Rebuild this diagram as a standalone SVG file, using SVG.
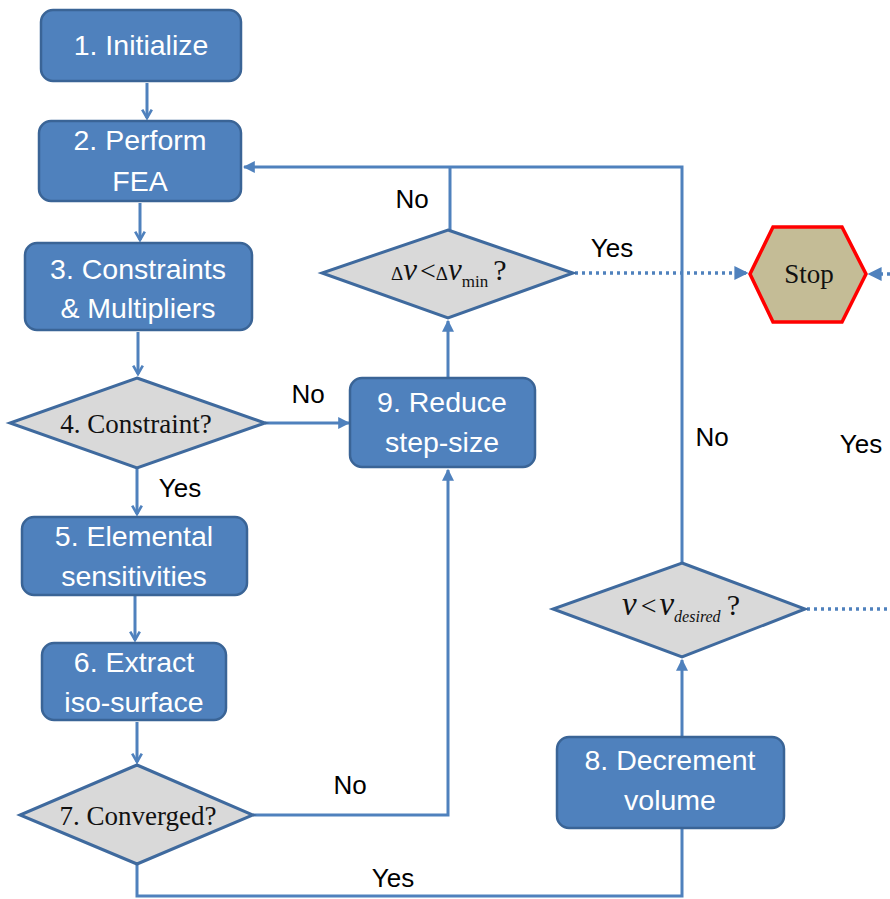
<svg xmlns="http://www.w3.org/2000/svg" width="890" height="899" viewBox="0 0 890 899">
<style>
.box{fill:#4F81BD;stroke:#3A6496;stroke-width:2.5}
.bt{font-family:"Liberation Sans",Arial,sans-serif;font-size:28.5px;fill:#fff;text-anchor:middle}
.dia{fill:#D9D9D9;stroke:#3F6A9E;stroke-width:3}
.dt{font-family:"Liberation Serif","Times New Roman",serif;font-size:27px;fill:#111;text-anchor:middle}
.lbl{font-family:"Liberation Sans",Arial,sans-serif;font-size:26px;fill:#000;text-anchor:middle}
.ln{fill:none;stroke:#4F81BD;stroke-width:3}
.dot{fill:none;stroke:#4F81BD;stroke-width:3.5;stroke-dasharray:3 4}
</style>
<defs>
<marker id="v" viewBox="0 0 10 10" refX="8" refY="5" markerWidth="4" markerHeight="4" orient="auto" markerUnits="strokeWidth">
<path d="M1,1 L8,5 L1,9" fill="none" stroke="#4F81BD" stroke-width="2.2"/>
</marker>
<marker id="t" viewBox="0 0 10 10" refX="9" refY="5" markerWidth="4" markerHeight="4" orient="auto" markerUnits="strokeWidth">
<path d="M0,0 L10,5 L0,10 Z" fill="#4F81BD"/>
</marker>
</defs>
<rect width="890" height="899" fill="#fff"/>
<g id="connectors">
<line class="ln" x1="147" y1="83" x2="147" y2="118" marker-end="url(#v)"/>
<line class="ln" x1="140" y1="203" x2="140" y2="240" marker-end="url(#v)"/>
<line class="ln" x1="138" y1="332" x2="138" y2="374" marker-end="url(#v)"/>
<line class="ln" x1="137" y1="468" x2="137" y2="514" marker-end="url(#v)"/>
<line class="ln" x1="135" y1="596" x2="135" y2="640" marker-end="url(#v)"/>
<line class="ln" x1="137" y1="722" x2="137" y2="762" marker-end="url(#v)"/>
<line class="ln" x1="265" y1="423" x2="349" y2="423" marker-end="url(#t)"/>
<polyline class="ln" points="253,815 448,815 448,470" marker-end="url(#t)"/>
<line class="ln" x1="448" y1="378" x2="448" y2="321" marker-end="url(#t)"/>
<polyline class="ln" points="137,864 137,896 682,896 682,829"/>
<line class="ln" x1="682" y1="737" x2="682" y2="660" marker-end="url(#t)"/>
<polyline class="ln" points="682,563 682,167 244,167" marker-end="url(#t)"/>
<line class="ln" x1="450" y1="167" x2="450" y2="230"/>
<line class="dot" x1="575" y1="273" x2="747" y2="273" marker-end="url(#t)"/>
<line class="dot" x1="890" y1="274" x2="869" y2="274" marker-end="url(#t)"/>
<line class="dot" x1="807" y1="609" x2="890" y2="609"/>
</g>
<g id="n1"><rect class="box" x="41" y="10" width="200" height="71" rx="12"/><text class="bt" x="141" y="55">1. Initialize</text></g>
<g id="n2"><rect class="box" x="39" y="121" width="202" height="80" rx="12"/><text class="bt" x="140" y="150">2. Perform</text><text class="bt" x="140" y="191">FEA</text></g>
<g id="n3"><rect class="box" x="25" y="243" width="227" height="87" rx="12"/><text class="bt" x="138" y="279">3. Constraints</text><text class="bt" x="138" y="318">&amp; Multipliers</text></g>
<g id="n4"><polygon class="dia" points="137,378 265,423 137,468 10,423"/><text class="dt" x="136" y="433">4. Constraint?</text></g>
<g id="n5"><rect class="box" x="22" y="517" width="225" height="78" rx="12"/><text class="bt" x="134" y="546">5. Elemental</text><text class="bt" x="134" y="586">sensitivities</text></g>
<g id="n6"><rect class="box" x="42" y="643" width="184" height="77" rx="12"/><text class="bt" x="134" y="672">6. Extract</text><text class="bt" x="134" y="712">iso-surface</text></g>
<g id="n7"><polygon class="dia" points="137,765 253,815 137,864 20,815"/><text class="dt" x="138" y="825">7. Converged?</text></g>
<g id="n9"><rect class="box" x="350" y="378" width="185" height="89" rx="12"/><text class="bt" x="442" y="412">9. Reduce</text><text class="bt" x="442" y="452">step-size</text></g>
<g id="n8"><rect class="box" x="557" y="737" width="227" height="91" rx="12"/><text class="bt" x="670" y="770">8. Decrement</text><text class="bt" x="670" y="810">volume</text></g>
<g id="nDv"><polygon class="dia" points="448,230 573,273 448,318 322,273"/><text font-family="'Liberation Serif','Times New Roman',serif" fill="#111" x="391" y="280"><tspan font-size="19">Δ</tspan><tspan font-size="31" font-style="italic">v</tspan><tspan font-size="28" dx="3">&lt;</tspan><tspan font-size="19">Δ</tspan><tspan font-size="31" font-style="italic">v</tspan><tspan font-size="17" dy="7">min</tspan><tspan font-size="30" dy="-7" dx="5">?</tspan></text></g>
<g id="nVd"><polygon class="dia" points="682,563 805,609 682,657 553,609"/><text font-family="'Liberation Serif','Times New Roman',serif" fill="#111" x="622" y="615"><tspan font-size="33" font-style="italic">v</tspan><tspan font-size="28" dx="4">&lt;</tspan><tspan font-size="33" font-style="italic" dx="3">v</tspan><tspan font-size="16" font-style="italic" dy="7">desired</tspan><tspan font-size="30" dy="-7" dx="6">?</tspan></text></g>
<g id="stop"><polygon points="750,274 773,227 842,227 866,274 842,322 773,322" fill="#C4BC96" stroke="#FF0000" stroke-width="3.5"/><text class="dt" x="809" y="283">Stop</text></g>
<g id="labels">
<text class="lbl" x="308" y="403">No</text>
<text class="lbl" x="180" y="497">Yes</text>
<text class="lbl" x="350" y="794">No</text>
<text class="lbl" x="393" y="887">Yes</text>
<text class="lbl" x="412" y="208">No</text>
<text class="lbl" x="612" y="257">Yes</text>
<text class="lbl" x="712" y="446">No</text>
<text class="lbl" x="861" y="453">Yes</text>
</g>
</svg>
